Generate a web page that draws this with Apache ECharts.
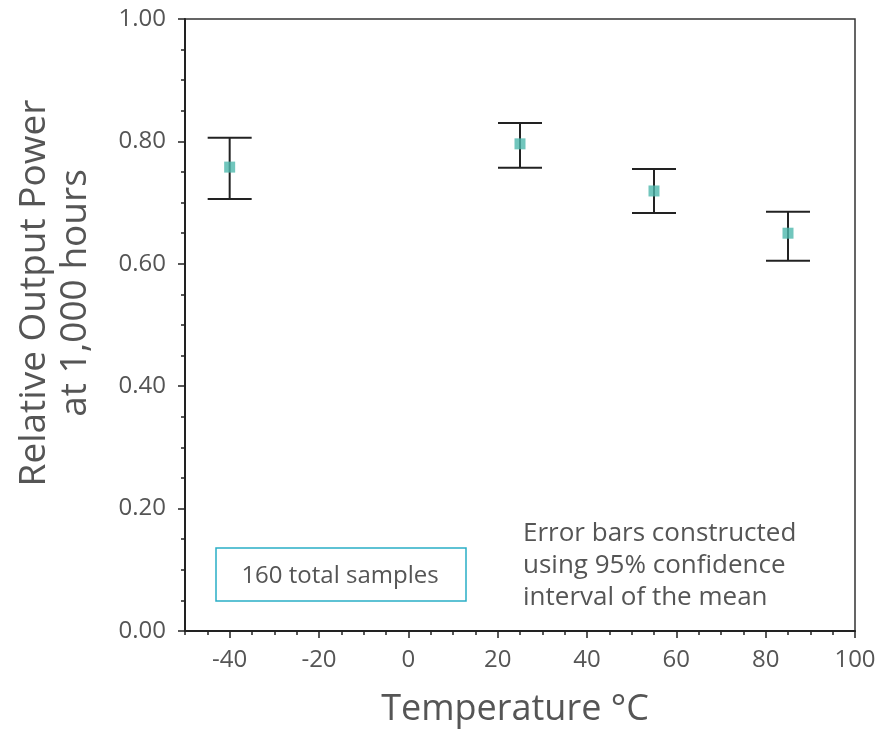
<!DOCTYPE html>
<html><head><meta charset="utf-8">
<script src="https://cdn.jsdelivr.net/npm/echarts@6/dist/echarts.min.js"></script>
<style>html,body{margin:0;padding:0;background:#fff}#c{width:881px;height:729px}</style>
</head><body><div id="c"></div>
<script>
const temperatures = [-40, 25, 55, 85];
const meanPower = [0.758, 0.796, 0.719, 0.650];
const lowerCI = [0.706, 0.757, 0.683, 0.605];
const upperCI = [0.806, 0.830, 0.755, 0.685];
const xTickLabels = [-40, -20, 0, 20, 40, 60, 80, 100];
const xMinorTicks = [-50,-45,-35,-30,-25,-15,-10,-5,5,10,15,25,30,35,45,50,55,65,70,75,85,90,95];
const yTickLabels = [0, 0.2, 0.4, 0.6, 0.8, 1.0];

const FONT = 'Open Sans';
const TXT = '#555';
const chart = echarts.init(document.getElementById('c'));
const errData = temperatures.map((t, i) => [t, lowerCI[i], upperCI[i]]);
const ptData = temperatures.map((t, i) => [t, meanPower[i]]);

chart.setOption({
  animation: false,
  backgroundColor: '#fff',
  grid: { left: 185, right: 26, top: 19, bottom: 98, show: true, borderColor: '#333', borderWidth: 1.5 },
  xAxis: [{
    type: 'value', min: -50, max: 100, position: 'bottom',
    axisLine: { show: true, onZero: false, lineStyle: { color: '#222', width: 2 } },
    axisTick: { show: true, inside: false, length: 7, customValues: xTickLabels, lineStyle: { color: '#222', width: 1.5 } },
    axisLabel: { customValues: xTickLabels, margin: 17, color: TXT, fontSize: 24, fontFamily: FONT },
    splitLine: { show: false }
  }, {
    type: 'value', min: -50, max: 100, position: 'bottom',
    axisLine: { show: false, onZero: false },
    axisTick: { show: true, inside: false, length: 4, customValues: xMinorTicks, lineStyle: { color: '#222', width: 1.5 } },
    axisLabel: { show: false },
    splitLine: { show: false }
  }],
  yAxis: {
    type: 'value', min: 0, max: 1, interval: 0.2,
    axisLine: { show: true, onZero: false, lineStyle: { color: '#222', width: 2 } },
    axisTick: { show: true, inside: false, length: 7, lineStyle: { color: '#222', width: 1.5 } },
    minorTick: { show: true, splitNumber: 4, length: 4, lineStyle: { color: '#222', width: 1.5 } },
    axisLabel: { margin: 19, color: TXT, fontSize: 24, fontFamily: FONT, formatter: v => v.toFixed(2) },
    splitLine: { show: false }
  },
  series: [{
    type: 'custom',
    data: errData,
    z: 3,
    renderItem: function (params, api) {
      const x = api.value(0);
      const lo = api.coord([x, api.value(1)]);
      const hi = api.coord([x, api.value(2)]);
      const hw = 22;
      const st = { stroke: '#222', lineWidth: 2 };
      return { type: 'group', children: [
        { type: 'line', shape: { x1: lo[0], y1: lo[1], x2: hi[0], y2: hi[1] }, style: st },
        { type: 'line', shape: { x1: lo[0]-hw, y1: lo[1], x2: lo[0]+hw, y2: lo[1] }, style: st },
        { type: 'line', shape: { x1: hi[0]-hw, y1: hi[1], x2: hi[0]+hw, y2: hi[1] }, style: st }
      ]};
    }
  }, {
    type: 'scatter', data: ptData, symbol: 'rect', symbolSize: 11, z: 5,
    itemStyle: { color: '#4db8ad' }
  }],
  graphic: [
    { type: 'text', x: 515, y: 710, style: { text: 'Temperature °C', textAlign: 'center', textVerticalAlign: 'middle', fill: TXT, font: '36px "Open Sans"' } },
    { type: 'text', rotation: Math.PI / 2, x: 55, y: 293, style: { text: 'Relative Output Power\nat 1,000 hours', textAlign: 'center', textVerticalAlign: 'middle', fill: TXT, font: '37px "Open Sans"', lineHeight: 41 } },
    { type: 'rect', shape: { x: 216, y: 548, width: 250, height: 53 }, style: { fill: 'none', stroke: '#2aaec6', lineWidth: 1.5 } },
    { type: 'text', x: 340, y: 576, style: { text: '160 total samples', textAlign: 'center', textVerticalAlign: 'middle', fill: TXT, font: '24px "Open Sans"' } },
    { type: 'text', x: 523, y: 566, style: { text: 'Error bars constructed\nusing 95% confidence\ninterval of the mean', textAlign: 'left', textVerticalAlign: 'middle', fill: TXT, font: '26px "Open Sans"', lineHeight: 32 } }
  ]
});
</script></body></html>
